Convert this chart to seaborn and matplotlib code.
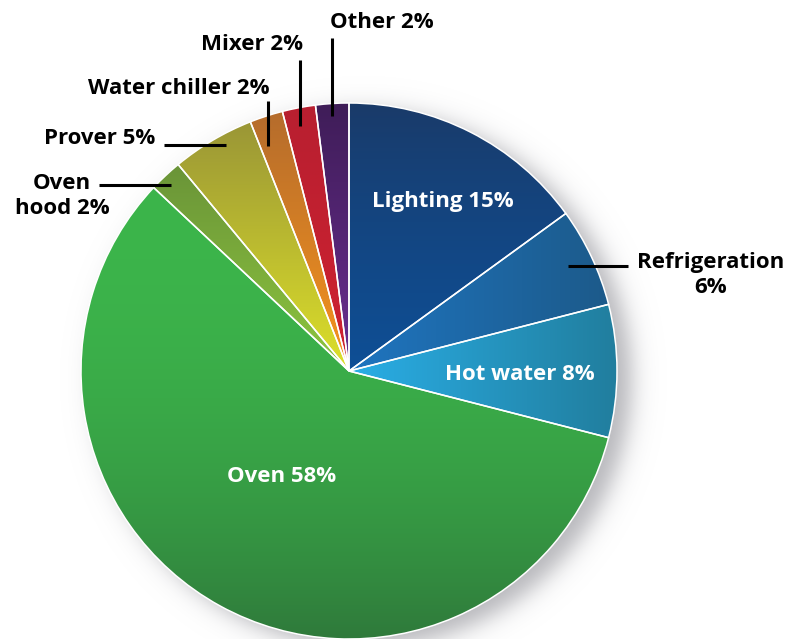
import numpy as np
import matplotlib
matplotlib.use("Agg")
import matplotlib.pyplot as plt
import seaborn as sns
from matplotlib.colors import to_rgb

# --- data ---
categories = ["Lighting", "Refrigeration", "Hot water", "Oven", "Oven hood",
              "Prover", "Water chiller", "Mixer", "Other"]
shares = [15, 6, 8, 58, 2, 5, 2, 2, 2]
label_texts = ["Lighting 15%", "Refrigeration\n6%", "Hot water 8%", "Oven 58%",
               "Oven\nhood 2%", "Prover 5%", "Water chiller 2%", "Mixer 2%", "Other 2%"]

# gradient colours per slice: (start, end, direction, exponent)
grad_colors = [
    ("#1a3a68", "#0e4f96", "v", 0.8),
    ("#1f75c0", "#1c5a8a", "h", 1.0),
    ("#2aaee6", "#217e9e", "h", 1.0),
    ("#3cb54b", "#2f7a3b", "v", 2.2),
    ("#6a9438", "#8ec63f", "v", 1.0),
    ("#9a9636", "#dde02a", "v", 1.0),
    ("#b56c2c", "#f7941d", "v", 1.0),
    ("#b81f30", "#cf2230", "v", 1.0),
    ("#3f1d58", "#6b2e92", "v", 1.0),
]

# --- layout (pixel units, y measured from the bottom) ---
W, H = 788, 639
center = (349, H - 371)
radius = 268

# label placement: (x, y, colour) in image pixels
label_pos = [
    (443, 201, "white"), (711, 275, "black"), (520, 374, "white"),
    (282, 477, "white"), (62, 196, "black"), (100, 139, "black"),
    (179, 88, "black"), (252, 45, "black"), (382, 23, "black"),
]
# leader lines: ((x0, y0), (x1, y1)) in image pixels
leaders = {
    1: ((568, 266), (628, 266)),
    4: ((99, 185), (171, 185)),
    5: ((164, 145), (226, 145)),
    6: ((268, 101), (268, 146)),
    7: ((300, 60), (300, 126)),
    8: ((332, 38), (332, 116)),
}

sns.set_theme(style="white")
plt.rcParams["font.family"] = ["Open Sans", "DejaVu Sans"]

fig = plt.figure(figsize=(W / 100, H / 100), dpi=100)
ax = fig.add_axes([0, 0, 1, 1])

# soft drop shadow
yy, xx = np.mgrid[0:H, 0:W]
d = np.hypot(xx - (center[0] + 14), (H - yy) - (center[1] - 8))
alpha = 0.5 * (1 - np.tanh((d - radius) / 14.0)) * 0.65
shadow = np.zeros((H, W, 4))
shadow[..., :3] = to_rgb("#8f8f96")
shadow[..., 3] = alpha
ax.imshow(shadow, extent=(0, W, 0, H), origin="upper", zorder=0)

wedges, _ = ax.pie(shares, center=center, radius=radius, startangle=90,
                   counterclock=False, colors=[c[0] for c in grad_colors],
                   wedgeprops=dict(linewidth=0), frame=True)
for w in wedges:
    w.set_zorder(1)

# gradient fill clipped to each slice
n = 200
for w, (c0, c1, direction, p) in zip(wedges, grad_colors):
    ext = w.get_path().get_extents()
    t = np.linspace(0, 1, n) ** p
    if direction == "v":
        tt = np.repeat(t[:, None], n, axis=1)
    else:
        tt = np.repeat(t[None, :], n, axis=0)
    img = (1 - tt)[..., None] * np.array(to_rgb(c0)) + tt[..., None] * np.array(to_rgb(c1))
    im = ax.imshow(img, extent=(ext.x0, ext.x1, ext.y0, ext.y1), origin="upper",
                   zorder=2, interpolation="bilinear")
    im.set_clip_path(w)

# white separators
edges, _ = ax.pie(shares, center=center, radius=radius, startangle=90,
                  counterclock=False,
                  wedgeprops=dict(fill=False, edgecolor="white", linewidth=1.1),
                  frame=True)
for e in edges:
    e.set_zorder(3)

for i, (txt, (x, y, col)) in enumerate(zip(label_texts, label_pos)):
    ax.text(x, H - y, txt, color=col, fontsize=16, fontweight="bold",
            ha="center", va="center", linespacing=1.25, zorder=5)

for (x0, y0), (x1, y1) in leaders.values():
    ax.plot([x0, x1], [H - y0, H - y1], color="black", lw=2.2,
            solid_capstyle="butt", zorder=4)

ax.set_xlim(0, W)
ax.set_ylim(0, H)
ax.set_aspect("equal")
ax.axis("off")

fig.savefig("out.png", dpi=100)
